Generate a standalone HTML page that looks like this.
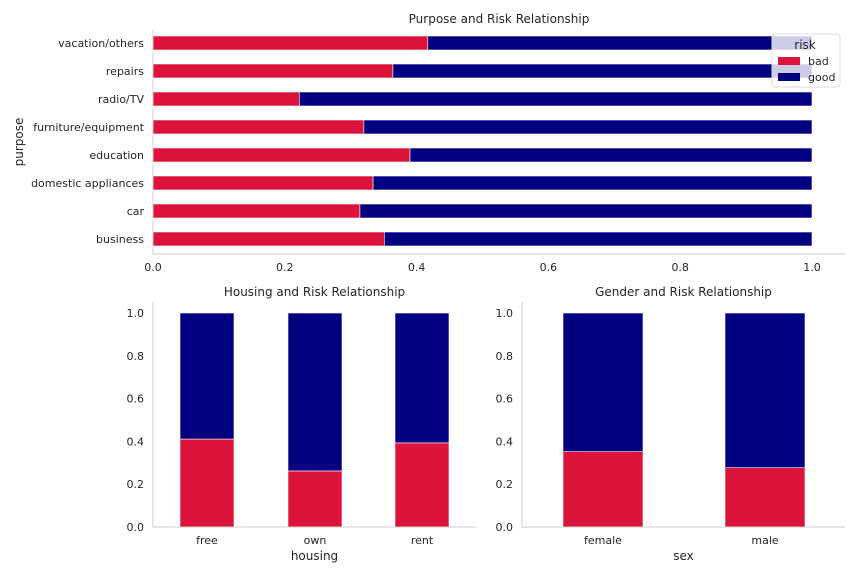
<!DOCTYPE html>
<html><head><meta charset="utf-8">
<style>
body{margin:0;background:#fff;}
svg{display:block;font-family:"DejaVu Sans","Liberation Sans",sans-serif;}
text{fill:#262626;}
</style></head>
<body>
<svg id="chart" width="864" height="576" viewBox="0 0 864 576"></svg>
<script>
const purposes=["business","car","domestic appliances","education","furniture/equipment","radio/TV","repairs","vacation/others"];
const purposeBad=[0.351,0.314,0.334,0.390,0.320,0.222,0.364,0.417];
const housing=["free","own","rent"];
const housingBad=[0.411,0.262,0.393];
const sexes=["female","male"];
const sexBad=[0.352,0.277];
const xTicks=[0,0.2,0.4,0.6,0.8,1.0];
const yTicks=[0,0.2,0.4,0.6,0.8,1.0];
const BAD="#dc143c",GOOD="#000080",SPINE="#cccccc";
const svg=document.getElementById('chart');
const NS="http://www.w3.org/2000/svg";
function el(tag,attrs,name,text){const e=document.createElementNS(NS,tag);for(const k in attrs)e.setAttribute(k,attrs[k]);


if(text!==undefined)e.textContent=text;svg.appendChild(e);return e;}

const T={l:153,r:845,t:30,b:254};
const tx=v=>153+v*659;
const rowY=i=>239-i*28;
el('text',{x:499,y:23,'text-anchor':'middle','font-size':12},'top-chart-title','Purpose and Risk Relationship');
purposes.forEach((p,i)=>{
  const y=rowY(i);
  el('rect',{x:tx(0),y:y-7,width:tx(purposeBad[i])-tx(0),height:14,fill:BAD,stroke:'#fff','stroke-width':0.6},'bar-bad-'+p);
  el('rect',{x:tx(purposeBad[i]),y:y-7,width:tx(1)-tx(purposeBad[i]),height:14,fill:GOOD,stroke:'#fff','stroke-width':0.6},'bar-good-'+p);
  el('text',{x:144,y:y+4,'text-anchor':'end','font-size':11},'y-tick-label',p);
});
el('line',{x1:T.l,y1:T.t,x2:T.l,y2:T.b,stroke:SPINE},'top-y-spine');
el('line',{x1:T.l,y1:T.b,x2:T.r,y2:T.b,stroke:SPINE},'top-x-spine');
xTicks.forEach(v=>el('text',{x:tx(v),y:271,'text-anchor':'middle','font-size':11},'x-tick-label',v.toFixed(1)));
el('text',{x:23,y:142,'text-anchor':'middle','font-size':12,transform:'rotate(-90 23 142)'},'y-axis-title','purpose');
el('rect',{x:772,y:34,width:68,height:53,fill:'#fff','fill-opacity':0.8,stroke:'#ddd',rx:3},'legend-box');
el('text',{x:805,y:49,'text-anchor':'middle','font-size':12},'legend-title','risk');
el('rect',{x:778,y:57,width:22,height:8,fill:BAD},'legend-bad-patch');
el('text',{x:808,y:65,'font-size':11},'legend-bad-label','bad');
el('rect',{x:778,y:73,width:22,height:8,fill:GOOD},'legend-good-patch');
el('text',{x:808,y:81,'font-size':11},'legend-good-label','good');

function vchart(L,R,cats,bad,centers,bw,title,xlabel,pre){
  const y0=527,ys=v=>y0-v*214;
  el('text',{x:(L+R)/2,y:296,'text-anchor':'middle','font-size':12},pre+'-title',title);
  cats.forEach((c,i)=>{
    const cx=centers[i];
    el('rect',{x:cx-bw/2,y:ys(bad[i]),width:bw,height:ys(0)-ys(bad[i]),fill:BAD,stroke:'#fff','stroke-width':0.6},'bar-bad-'+c);
    el('rect',{x:cx-bw/2,y:ys(1),width:bw,height:ys(bad[i])-ys(1),fill:GOOD,stroke:'#fff','stroke-width':0.6},'bar-good-'+c);
    el('text',{x:cx,y:544,'text-anchor':'middle','font-size':11},'x-tick-label',c);
  });
  el('line',{x1:L,y1:302,x2:L,y2:y0,stroke:SPINE},pre+'-y-spine');
  el('line',{x1:L,y1:y0,x2:R,y2:y0,stroke:SPINE},pre+'-x-spine');
  yTicks.forEach(v=>el('text',{x:L-9,y:ys(v)+4,'text-anchor':'end','font-size':11},'y-tick-label',v.toFixed(1)));
  el('text',{x:(L+R)/2,y:560,'text-anchor':'middle','font-size':12},pre+'-x-axis-title',xlabel);
}
vchart(153,476,housing,housingBad,[207,315,422],54,'Housing and Risk Relationship','housing','housing-chart');
vchart(522,845,sexes,sexBad,[603,765],80,'Gender and Risk Relationship','sex','gender-chart');
</script>
</body></html>
